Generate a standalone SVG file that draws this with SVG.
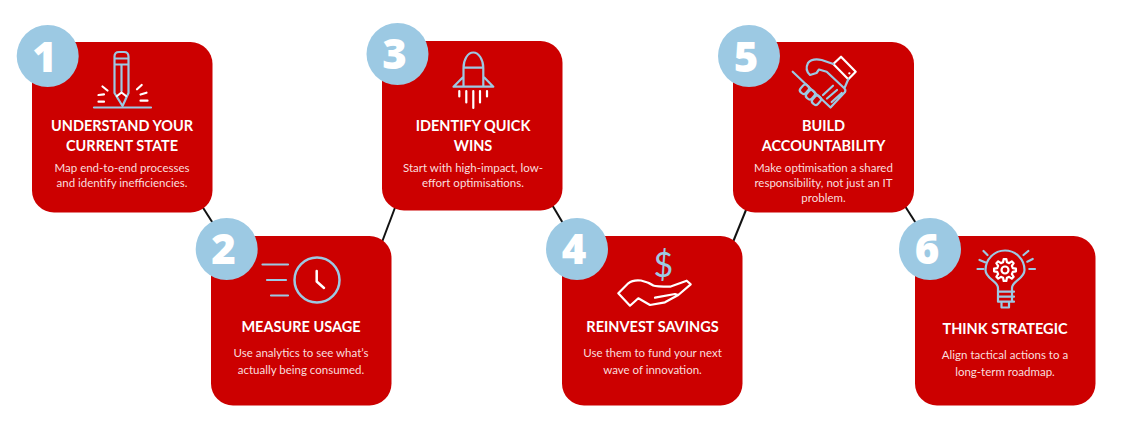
<svg xmlns="http://www.w3.org/2000/svg" width="1124" height="431" viewBox="0 0 1124 431">
<style>
.card{fill:#cc0000}
.badge{fill:#9cc9e3}
.num{font-family:"Open Sans","Liberation Sans",sans-serif;font-weight:800;font-size:42px;fill:#fff;text-anchor:middle}
.title{font-family:"Lato","Liberation Sans",sans-serif;font-weight:700;font-size:14.500px;fill:#fff;text-anchor:middle}
.body{font-family:"Lato","Liberation Sans",sans-serif;font-weight:400;font-size:11.500px;fill:#f9dede;text-anchor:middle}
.b{fill:none;stroke:#9cc9e3;stroke-width:2.200;stroke-linecap:round;stroke-linejoin:round}
.w{fill:none;stroke:#fff;stroke-width:2.200;stroke-linecap:round;stroke-linejoin:round}
.link{stroke:#111;stroke-width:2;fill:none}
</style>
<rect width="1124" height="431" fill="#fff"/>
<g id="connectors">
<line class="link" x1="200" y1="203" x2="216" y2="228"/>
<line class="link" x1="396" y1="205" x2="382" y2="242"/>
<line class="link" x1="551" y1="203" x2="567" y2="230"/>
<line class="link" x1="748" y1="205" x2="733" y2="242"/>
<line class="link" x1="903" y1="203" x2="919" y2="228"/>
</g>
<g id="node-1">
<rect class="card" x="32" y="42" width="180.500" height="170.500" rx="22"/>
<circle class="badge" cx="47.700" cy="56" r="31"/>
<text class="num" x="44.500" y="72">1</text>
<path class="b" d="M114.500 93V56.500Q114.500 52 119 52H124Q128.500 52 128.500 56.500V93L122.500 106ZM114.500 58.500H128.500M114.500 64.500H128.500M121.500 64.500V91"/>
<path class="b" d="M94 107.500H151"/>
<path class="w" d="M117 96L121.500 92.500L126 96M102.500 86.500L107.500 90.500M98.500 95L104 94.300M98.500 101.700H104M141.700 85L137 89.300M146.500 92.700L140.500 94.500M147.500 100.700H140.500"/>
<text class="title" x="122" y="131">UNDERSTAND YOUR</text>
<text class="title" x="122" y="151">CURRENT STATE</text>
<text class="body" x="122" y="172">Map end-to-end processes</text>
<text class="body" x="122" y="187">and identify inefficiencies.</text>
</g>
<g id="node-2">
<rect class="card" x="211" y="236" width="180.500" height="169.500" rx="22"/>
<circle class="badge" cx="226.700" cy="249" r="31"/>
<text class="num" x="223.500" y="264">2</text>
<circle class="b" cx="317" cy="280" r="22.500" style="stroke-width:2.500"/>
<path class="b" d="M262.500 264.500H288M267 280H286M271 295.500H288"/>
<path class="w" d="M316.700 271V281.500L324 288" style="stroke-width:2.500"/>
<text class="title" x="301" y="332">MEASURE USAGE</text>
<text class="body" x="301" y="357">Use analytics to see what’s</text>
<text class="body" x="301" y="374">actually being consumed.</text>
</g>
<g id="node-3">
<rect class="card" x="382" y="41" width="180.500" height="169.500" rx="22"/>
<circle class="badge" cx="397.500" cy="54" r="31"/>
<text class="num" x="394.500" y="69">3</text>
<path class="b" d="M463.500 86.500V68C463.500 60 467.500 52.500 473.300 52.500C479 52.500 483.300 60 483.300 68V86.500M463.500 67.700H483.300M462.700 77.500L453.500 86.700H493.300L484.300 77.500"/>
<path class="w" d="M459.300 91V96.500M466.300 91V102.500M473.300 91V108M480 91V102.500M487 91V96.500"/>
<text class="title" x="473" y="131">IDENTIFY QUICK</text>
<text class="title" x="473" y="151">WINS</text>
<text class="body" x="473" y="172">Start with high-impact, low-</text>
<text class="body" x="473" y="187">effort optimisations.</text>
</g>
<g id="node-4">
<rect class="card" x="562" y="236" width="180.500" height="169.500" rx="22"/>
<circle class="badge" cx="577" cy="249" r="31"/>
<text class="num" x="574" y="264">4</text>
<text x="663.300" y="277" font-family="Lato, sans-serif" font-weight="400" font-size="34" fill="#9cc9e3" text-anchor="middle">$</text>
<path class="w" d="M618.300 293.300L628.300 283.300Q633 279.500 641 280.500Q648 282 653.300 285.500Q656 286.700 670 286.700L686.700 280.700L690.700 284.300L678.300 295L665 302.300L650 305L638.300 298.300L630 305.700ZM655 297.700L675 294L678.300 295"/>
<text class="title" x="652.500" y="332">REINVEST SAVINGS</text>
<text class="body" x="652.500" y="357">Use them to fund your next</text>
<text class="body" x="652.500" y="374">wave of innovation.</text>
</g>
<g id="node-5">
<rect class="card" x="733" y="42" width="181" height="170.500" rx="22"/>
<circle class="badge" cx="749" cy="56" r="31"/>
<text class="num" x="746" y="72">5</text>
<path class="w" d="M833.300 64L841 56.700L855.700 71.700L848.300 79.300ZM849.300 73.300h.1"/>
<path class="b" d="M792.700 71.700L830.500 107.500L845 92Q846 90 844.300 88.300L826.700 71.700L819 69.500L816.500 73L810 75Q804.500 70 808 63Q812 58 821.700 60L833.300 64M848.300 79.300L844.500 88M823 95L833 85.700M827 98.500L837 90M831.700 102L841.700 93"/>
<g class="b">
<rect x="801" y="84.500" width="7" height="9.500" rx="3" transform="rotate(43 804.500 89.250)"/>
<rect x="807" y="90" width="7" height="9.500" rx="3" transform="rotate(43 810.500 94.750)"/>
<rect x="813" y="95.500" width="7" height="9.500" rx="3" transform="rotate(43 816.500 100.250)"/>
</g>
<text class="title" x="823.500" y="131">BUILD</text>
<text class="title" x="823.500" y="151">ACCOUNTABILITY</text>
<text class="body" x="823.500" y="172">Make optimisation a shared</text>
<text class="body" x="823.500" y="187">responsibility, not just an IT</text>
<text class="body" x="823.500" y="202">problem.</text>
</g>
<g id="node-6">
<rect class="card" x="915" y="236" width="180.500" height="169.500" rx="22"/>
<circle class="badge" cx="930" cy="249" r="31"/>
<text class="num" x="927" y="264">6</text>
<path class="b" d="M998 288C998 281 985.500 279 985.500 270A19.500 19.500 0 0 1 1024.500 270C1024.500 279 1012 281 1012 288M998 288V301.700H1014M998 291.700H1014M998 296.700H1014M1012 288V301.700M1001.500 303V307.500H1009V303"/>
<path class="b" d="M983.500 251L987.500 255M979.500 260L985 262.300M977.500 269H983.500M1028.300 251L1023.500 255M1032.700 259L1027.300 261.700M1035 269H1029.300"/>
<g transform="translate(1005 270)"><path class="w" d="M7.760 -1.940L10.920 -1.340V1.340L7.760 1.940L6.860 4.120L8.670 6.770L6.770 8.670L4.120 6.860L1.940 7.760L1.340 10.920H-1.340L-1.940 7.760L-4.120 6.860L-6.770 8.670L-8.670 6.770L-6.860 4.120L-7.760 1.940L-10.920 1.340V-1.340L-7.760 -1.940L-6.860 -4.120L-8.670 -6.770L-6.770 -8.670L-4.120 -6.860L-1.940 -7.760L-1.340 -10.920H1.340L1.940 -7.760L4.120 -6.860L6.770 -8.670L8.670 -6.770L6.860 -4.120Z"/><circle class="w" r="3.500"/></g>
<text class="title" x="1005" y="333.500">THINK STRATEGIC</text>
<text class="body" x="1005" y="359">Align tactical actions to a</text>
<text class="body" x="1005" y="376">long-term roadmap.</text>
</g>
</svg>
